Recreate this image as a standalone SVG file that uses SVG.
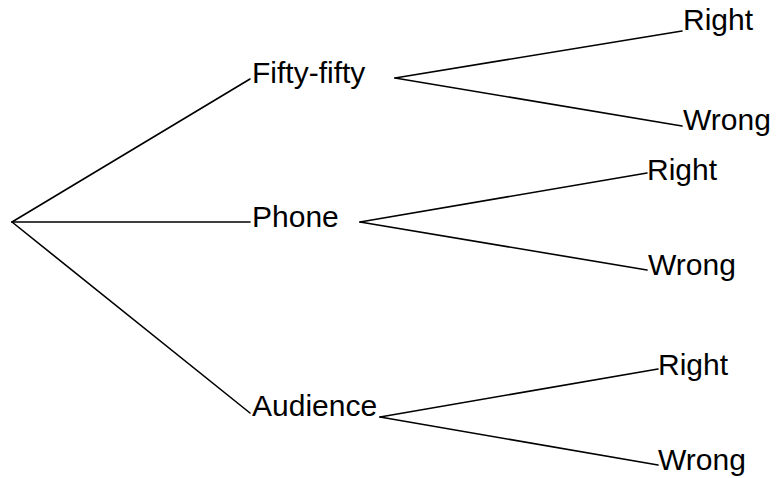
<svg xmlns="http://www.w3.org/2000/svg" width="779" height="478" viewBox="0 0 779 478">
<style>
text{font-family:"Liberation Sans",Arial,sans-serif;font-size:30px;fill:#000}
line{stroke:#000;stroke-width:1.6;stroke-linecap:round}
</style>
<rect width="779" height="478" fill="#fff"/>
<g id="connectors">
<line x1="12" y1="222" x2="250" y2="79"/>
<line x1="12" y1="222" x2="250" y2="222"/>
<line x1="12" y1="222" x2="250" y2="413"/>
<line x1="395" y1="78" x2="682" y2="31"/>
<line x1="395" y1="78" x2="682" y2="126"/>
<line x1="360" y1="222" x2="647" y2="173"/>
<line x1="360" y1="222" x2="647" y2="270"/>
<line x1="380" y1="417" x2="658" y2="369"/>
<line x1="380" y1="417" x2="658" y2="465"/>
</g>
<g id="fifty"><text x="252" y="83">Fifty-fifty</text></g>
<g id="phone"><text x="252" y="227">Phone</text></g>
<g id="audience"><text x="252" y="416">Audience</text></g>
<g id="ff-right"><text x="683" y="30">Right</text></g>
<g id="ff-wrong"><text x="683" y="130">Wrong</text></g>
<g id="ph-right"><text x="647" y="180">Right</text></g>
<g id="ph-wrong"><text x="648" y="275">Wrong</text></g>
<g id="au-right"><text x="658" y="375">Right</text></g>
<g id="au-wrong"><text x="658" y="470">Wrong</text></g>
</svg>
